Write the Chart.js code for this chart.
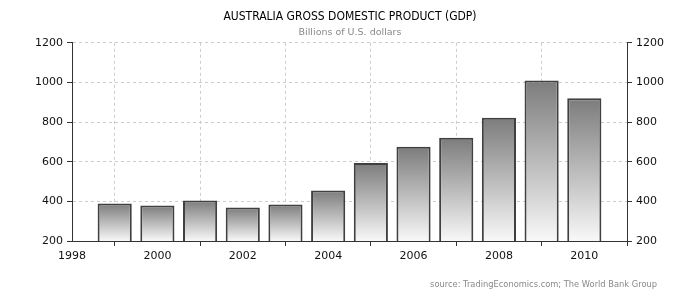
<!DOCTYPE html>
<html><head><meta charset="utf-8">
<script src="https://cdn.jsdelivr.net/npm/chart.js@4/dist/chart.umd.min.js"></script>
<style>
html,body{margin:0;padding:0;background:#fff;}
#wrap{position:relative;width:700px;height:300px;}
#source{position:absolute;right:43px;top:279px;font:8.3px "DejaVu Sans",sans-serif;color:#888;white-space:nowrap;}
</style></head><body>
<div id="wrap"><canvas id="c" width="700" height="300"></canvas><div id="source">source: TradingEconomics.com; The World Bank Group</div></div>
<script>
const years = [1999, 2000, 2001, 2002, 2003, 2004, 2005, 2006, 2007, 2008, 2009, 2010];
const gdp = [389, 379, 404, 369, 384, 455, 594, 676, 721, 822, 1010, 920];
const yTicks = [200, 400, 600, 800, 1000, 1200];
const xTicks = [1998, 2000, 2002, 2004, 2006, 2008, 2010];
const titleText = 'AUSTRALIA GROSS DOMESTIC PRODUCT (GDP)';
const subtitleText = 'Billions of U.S. dollars';

const tickFont = {family: 'DejaVu Sans', size: 11};
const axisColor = '#333';
const gridColor = '#cccccc';

function barFill(ctx) {
  const chart = ctx.chart, area = chart.chartArea;
  if (!area || ctx.type !== 'data') return '#aaaaaa';
  const top = chart.scales.y.getPixelForValue(gdp[ctx.dataIndex]);
  const g = chart.ctx.createLinearGradient(0, top, 0, area.bottom);
  g.addColorStop(0, '#7c7c7c');
  g.addColorStop(1, '#f8f8f8');
  return g;
}

new Chart(document.getElementById('c'), {
  type: 'bar',
  data: {
    datasets: [{
      data: years.map((y, i) => ({x: y, y: gdp[i]})),
      backgroundColor: barFill,
      borderColor: '#404040',
      borderWidth: 2,
      barPercentage: 0.8,
      categoryPercentage: 1
    }]
  },
  options: {
    responsive: false,
    devicePixelRatio: 1,
    animation: false,
    layout: {padding: 0},
    plugins: {
      legend: {display: false},
      tooltip: {enabled: false},
      title: {display: true, text: titleText, color: '#000',
        font: {family: '"DejaVu Sans Condensed", "DejaVu Sans"', size: 12, weight: 'normal'}, padding: {top: 10, bottom: 0}},
      subtitle: {display: true, text: subtitleText, color: '#888',
        font: {family: 'DejaVu Sans', size: 9.5}, padding: {top: 2, bottom: 5}}
    },
    scales: {
      x: {
        type: 'linear', min: 1998, max: 2011, offset: false,
        afterBuildTicks: s => { s.ticks = xTicks.map(v => ({value: v})); },
        afterFit: s => { s.height = 59; },
        ticks: {font: tickFont, color: '#111', padding: 4, maxRotation: 0, autoSkip: false,
          callback: v => String(v)},
        grid: {color: gridColor, tickColor: axisColor, tickLength: 5, drawTicks: true},
        border: {color: axisColor, width: 1, dash: [3, 3]}
      },
      y: {
        type: 'linear', position: 'left', min: 200, max: 1200,
        afterBuildTicks: s => { s.ticks = yTicks.map(v => ({value: v})); },
        afterFit: s => { s.width = 72; },
        ticks: {font: tickFont, color: '#111', padding: 4, callback: v => String(v)},
        grid: {color: gridColor, tickColor: axisColor, tickLength: 5},
        border: {color: axisColor, width: 1, dash: [3, 3]}
      },
      y2: {
        type: 'linear', position: 'right', min: 200, max: 1200,
        afterBuildTicks: s => { s.ticks = yTicks.map(v => ({value: v})); },
        afterFit: s => { s.width = 73; },
        ticks: {font: tickFont, color: '#111', padding: 4, callback: v => String(v)},
        grid: {drawOnChartArea: false, tickColor: axisColor, tickLength: 5},
        border: {color: axisColor, width: 1}
      }
    }
  }
});
</script>
</body></html>
